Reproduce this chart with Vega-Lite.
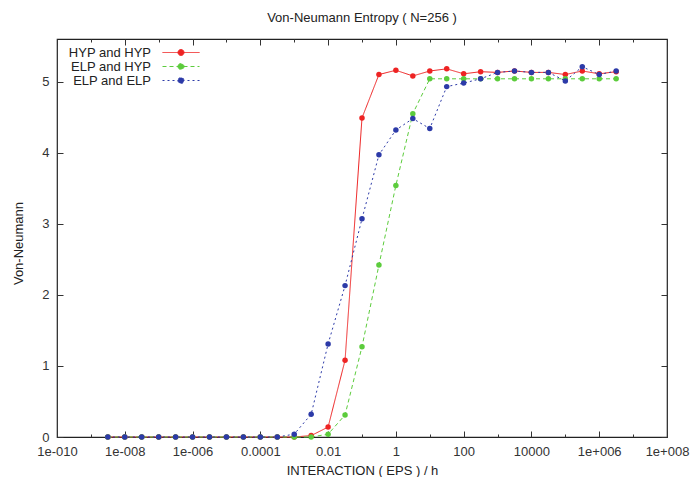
{
  "$schema": "https://vega.github.io/schema/vega-lite/v6.json",
  "width": 610,
  "height": 398,
  "autosize": "none",
  "padding": {"left": 57, "top": 39, "right": 25, "bottom": 40},
  "background": "white",
  "config": {
    "view": {"stroke": "#222", "strokeWidth": 1.2},
    "font": "Liberation Sans",
    "axis": {"grid": false, "domain": false, "labelFont": "Liberation Sans", "labelFontSize": 13, "labelColor": "#333", "titleFont": "Liberation Sans", "titleFontSize": 13, "titleFontWeight": "normal", "titleColor": "#222", "tickColor": "#333", "tickWidth": 1}
  },
  "title": {"text": "Von-Neumann Entropy ( N=256 )", "fontSize": 13, "fontWeight": "normal", "font": "Liberation Sans", "color": "#222", "anchor": "middle", "offset": 14},
  "data": {"values": [
    {"s": "HYP and HYP", "x": 3.1623e-9, "y": 0}, {"s": "HYP and HYP", "x": 1e-8, "y": 0}, {"s": "HYP and HYP", "x": 3.1623e-8, "y": 0}, {"s": "HYP and HYP", "x": 1e-7, "y": 0}, {"s": "HYP and HYP", "x": 3.1623e-7, "y": 0}, {"s": "HYP and HYP", "x": 1e-6, "y": 0}, {"s": "HYP and HYP", "x": 3.1623e-6, "y": 0}, {"s": "HYP and HYP", "x": 1e-5, "y": 0}, {"s": "HYP and HYP", "x": 3.1623e-5, "y": 0}, {"s": "HYP and HYP", "x": 1e-4, "y": 0}, {"s": "HYP and HYP", "x": 3.1623e-4, "y": 0}, {"s": "HYP and HYP", "x": 1e-3, "y": 0}, {"s": "HYP and HYP", "x": 3.1623e-3, "y": 0.02}, {"s": "HYP and HYP", "x": 0.01, "y": 0.14}, {"s": "HYP and HYP", "x": 0.031623, "y": 1.08}, {"s": "HYP and HYP", "x": 0.1, "y": 4.49}, {"s": "HYP and HYP", "x": 0.31623, "y": 5.10}, {"s": "HYP and HYP", "x": 1, "y": 5.16}, {"s": "HYP and HYP", "x": 3.1623, "y": 5.08}, {"s": "HYP and HYP", "x": 10, "y": 5.15}, {"s": "HYP and HYP", "x": 31.623, "y": 5.18}, {"s": "HYP and HYP", "x": 100, "y": 5.11}, {"s": "HYP and HYP", "x": 316.23, "y": 5.14}, {"s": "HYP and HYP", "x": 1000, "y": 5.13}, {"s": "HYP and HYP", "x": 3162.3, "y": 5.15}, {"s": "HYP and HYP", "x": 10000, "y": 5.13}, {"s": "HYP and HYP", "x": 31623, "y": 5.13}, {"s": "HYP and HYP", "x": 100000, "y": 5.10}, {"s": "HYP and HYP", "x": 316230, "y": 5.15}, {"s": "HYP and HYP", "x": 1000000, "y": 5.11}, {"s": "HYP and HYP", "x": 3162300, "y": 5.14},
    {"s": "ELP and HYP", "x": 3.1623e-9, "y": 0}, {"s": "ELP and HYP", "x": 1e-8, "y": 0}, {"s": "ELP and HYP", "x": 3.1623e-8, "y": 0}, {"s": "ELP and HYP", "x": 1e-7, "y": 0}, {"s": "ELP and HYP", "x": 3.1623e-7, "y": 0}, {"s": "ELP and HYP", "x": 1e-6, "y": 0}, {"s": "ELP and HYP", "x": 3.1623e-6, "y": 0}, {"s": "ELP and HYP", "x": 1e-5, "y": 0}, {"s": "ELP and HYP", "x": 3.1623e-5, "y": 0}, {"s": "ELP and HYP", "x": 1e-4, "y": 0}, {"s": "ELP and HYP", "x": 3.1623e-4, "y": 0}, {"s": "ELP and HYP", "x": 1e-3, "y": 0}, {"s": "ELP and HYP", "x": 3.1623e-3, "y": 0}, {"s": "ELP and HYP", "x": 0.01, "y": 0.04}, {"s": "ELP and HYP", "x": 0.031623, "y": 0.31}, {"s": "ELP and HYP", "x": 0.1, "y": 1.27}, {"s": "ELP and HYP", "x": 0.31623, "y": 2.42}, {"s": "ELP and HYP", "x": 1, "y": 3.54}, {"s": "ELP and HYP", "x": 3.1623, "y": 4.55}, {"s": "ELP and HYP", "x": 10, "y": 5.04}, {"s": "ELP and HYP", "x": 31.623, "y": 5.04}, {"s": "ELP and HYP", "x": 100, "y": 5.04}, {"s": "ELP and HYP", "x": 316.23, "y": 5.04}, {"s": "ELP and HYP", "x": 1000, "y": 5.04}, {"s": "ELP and HYP", "x": 3162.3, "y": 5.04}, {"s": "ELP and HYP", "x": 10000, "y": 5.04}, {"s": "ELP and HYP", "x": 31623, "y": 5.04}, {"s": "ELP and HYP", "x": 100000, "y": 5.04}, {"s": "ELP and HYP", "x": 316230, "y": 5.04}, {"s": "ELP and HYP", "x": 1000000, "y": 5.04}, {"s": "ELP and HYP", "x": 3162300, "y": 5.04},
    {"s": "ELP and ELP", "x": 3.1623e-9, "y": 0}, {"s": "ELP and ELP", "x": 1e-8, "y": 0}, {"s": "ELP and ELP", "x": 3.1623e-8, "y": 0}, {"s": "ELP and ELP", "x": 1e-7, "y": 0}, {"s": "ELP and ELP", "x": 3.1623e-7, "y": 0}, {"s": "ELP and ELP", "x": 1e-6, "y": 0}, {"s": "ELP and ELP", "x": 3.1623e-6, "y": 0}, {"s": "ELP and ELP", "x": 1e-5, "y": 0}, {"s": "ELP and ELP", "x": 3.1623e-5, "y": 0}, {"s": "ELP and ELP", "x": 1e-4, "y": 0}, {"s": "ELP and ELP", "x": 3.1623e-4, "y": 0}, {"s": "ELP and ELP", "x": 1e-3, "y": 0.04}, {"s": "ELP and ELP", "x": 3.1623e-3, "y": 0.32}, {"s": "ELP and ELP", "x": 0.01, "y": 1.31}, {"s": "ELP and ELP", "x": 0.031623, "y": 2.13}, {"s": "ELP and ELP", "x": 0.1, "y": 3.07}, {"s": "ELP and ELP", "x": 0.31623, "y": 3.97}, {"s": "ELP and ELP", "x": 1, "y": 4.32}, {"s": "ELP and ELP", "x": 3.1623, "y": 4.48}, {"s": "ELP and ELP", "x": 10, "y": 4.34}, {"s": "ELP and ELP", "x": 31.623, "y": 4.93}, {"s": "ELP and ELP", "x": 100, "y": 4.98}, {"s": "ELP and ELP", "x": 316.23, "y": 5.04}, {"s": "ELP and ELP", "x": 1000, "y": 5.13}, {"s": "ELP and ELP", "x": 3162.3, "y": 5.15}, {"s": "ELP and ELP", "x": 10000, "y": 5.13}, {"s": "ELP and ELP", "x": 31623, "y": 5.13}, {"s": "ELP and ELP", "x": 100000, "y": 5.01}, {"s": "ELP and ELP", "x": 316230, "y": 5.21}, {"s": "ELP and ELP", "x": 1000000, "y": 5.10}, {"s": "ELP and ELP", "x": 3162300, "y": 5.15}
  ]},
  "layer": [
    {
      "mark": {"type": "line", "strokeWidth": 1, "clip": false},
      "encoding": {
        "x": {"field": "x", "type": "quantitative", "scale": {"type": "log", "domain": [1e-10, 1e8]},
          "axis": {"orient": "bottom", "title": "INTERACTION ( EPS ) / h", "titleY": 33, "titleBaseline": "middle",
            "values": [1e-10, 1e-9, 1e-8, 1e-7, 1e-6, 1e-5, 1e-4, 1e-3, 0.01, 0.1, 1, 10, 100, 1000, 10000, 100000, 1000000, 10000000, 100000000],
            "labelExpr": "['1e-010','','1e-008','','1e-006','','0.0001','','0.01','','1','','100','','10000','','1e+006','','1e+008'][round(log(datum.value)/LN10)+10]",
            "tickSize": {"condition": {"test": "round(log(datum.value)/LN10) % 2 != 0", "value": -3}, "value": -6},
            "labelPadding": 14, "labelFlush": false, "labelOverlap": false}},
        "y": {"field": "y", "type": "quantitative", "scale": {"domain": [0, 5.6], "nice": false, "zero": true},
          "axis": {"orient": "left", "title": "Von-Neumann", "titleX": -39, "titleY": 204, "titleBaseline": "middle", "titleAngle": -90,
            "values": [0, 1, 2, 3, 4, 5], "tickSize": -6, "labelPadding": 14}},
        "color": {"field": "s", "type": "nominal",
          "scale": {"domain": ["HYP and HYP", "ELP and HYP", "ELP and ELP"], "range": ["#ee2323", "#5ccc3c", "#2c3aa8"]},
          "legend": {"orient": "none", "legendX": 117.5, "legendY": 7, "title": null, "symbolType": "M-3.7,0H3.7M-0.6,0a0.6,0.6 0 1,0 1.2,0a0.6,0.6 0 1,0 -1.2,0", "symbolSize": 100, "symbolStrokeWidth": 1, "rowPadding": 0, "padding": 0, "labelAlign": "right", "labelOffset": -36.5, "labelFontSize": 13, "labelColor": "#222", "labelFont": "Liberation Sans", "labelLimit": 0,
            "encode": {"symbols": {"update": {"fill": {"scale": "color", "field": "value"}, "fillOpacity": {"value": 1}}}}}},
        "strokeDash": {"field": "s", "type": "nominal",
          "scale": {"domain": ["HYP and HYP", "ELP and HYP", "ELP and ELP"], "range": [[1, 0], [4, 3], [2, 3]]},
          "legend": {"orient": "none", "legendX": 117.5, "legendY": 7, "title": null, "symbolType": "M-3.7,0H3.7M-0.6,0a0.6,0.6 0 1,0 1.2,0a0.6,0.6 0 1,0 -1.2,0", "symbolSize": 100, "symbolStrokeWidth": 1, "rowPadding": 0, "padding": 0, "labelAlign": "right", "labelOffset": -36.5, "labelFontSize": 13, "labelColor": "#222", "labelFont": "Liberation Sans", "labelLimit": 0,
            "encode": {"symbols": {"update": {"fill": {"scale": "color", "field": "value"}, "fillOpacity": {"value": 1}}}}}}
      }
    },
    {
      "mark": {"type": "point", "filled": true, "size": 30, "opacity": 1, "clip": false},
      "encoding": {
        "x": {"field": "x", "type": "quantitative", "scale": {"type": "log", "domain": [1e-10, 1e8]},
          "axis": {"orient": "top", "title": null, "labels": false,
            "values": [1e-10, 1e-9, 1e-8, 1e-7, 1e-6, 1e-5, 1e-4, 1e-3, 0.01, 0.1, 1, 10, 100, 1000, 10000, 100000, 1000000, 10000000, 100000000],
            "tickSize": {"condition": {"test": "round(log(datum.value)/LN10) % 2 != 0", "value": -3}, "value": -6}}},
        "y": {"field": "y", "type": "quantitative", "scale": {"domain": [0, 5.6], "nice": false},
          "axis": {"orient": "right", "title": null, "labels": false, "values": [0, 1, 2, 3, 4, 5], "tickSize": -6}},
        "color": {"field": "s", "type": "nominal",
          "scale": {"domain": ["HYP and HYP", "ELP and HYP", "ELP and ELP"], "range": ["#ee2323", "#5ccc3c", "#2c3aa8"]}}
      }
    }
  ],
  "resolve": {"axis": {"x": "independent", "y": "independent"}}
}
